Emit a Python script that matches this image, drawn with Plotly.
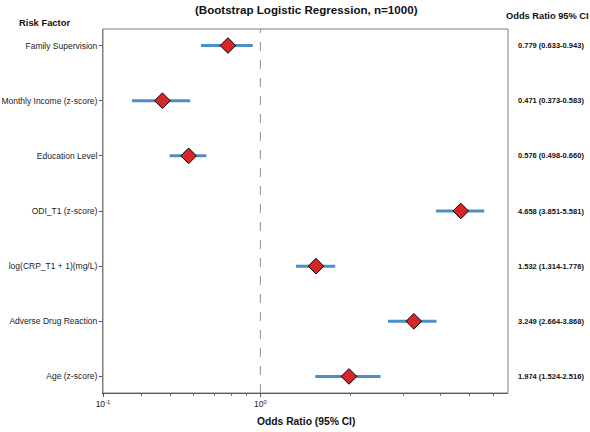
import math
import plotly.graph_objects as go

factors = ["Family Supervision", "Monthly Income (z-score)", "Education Level",
           "ODI_T1 (z-score)", "log(CRP_T1 + 1)(mg/L)", "Adverse Drug Reaction", "Age (z-score)"]
odds = [0.779, 0.471, 0.576, 4.658, 1.532, 3.249, 1.974]
ci_low = [0.633, 0.373, 0.498, 3.851, 1.314, 2.664, 1.524]
ci_high = [0.943, 0.583, 0.660, 5.581, 1.776, 3.868, 2.516]

x_min = min(ci_low) * 0.8
x_max = max(ci_high) * 1.2
major_vals = [x_min, 1]
major_text = ["10<sup>-1</sup>", "10<sup>0</sup>"]
minor_vals = [0.4, 0.5, 0.6, 0.7, 0.8, 0.9, 2, 3, 4, 5, 6]

FONT = "Liberation Sans, Arial, sans-serif"
ypos = list(range(len(factors)))

fig = go.Figure()
fig.add_trace(go.Scatter(
    x=odds, y=ypos, mode="markers",
    marker=dict(symbol="diamond", size=12, color="#d62728",
                line=dict(color="black", width=1)),
    error_x=dict(type="data", symmetric=False,
                 array=[h - o for h, o in zip(ci_high, odds)],
                 arrayminus=[o - l for o, l in zip(odds, ci_low)],
                 color="#4a8fc6", thickness=3, width=0),
    showlegend=False, hoverinfo="skip"))

fig.add_shape(type="line", xref="x", yref="paper", x0=1, x1=1, y0=0, y1=1,
              line=dict(color="#a0a0a0", width=1.2, dash="dash"), layer="below")
fig.add_shape(type="rect", xref="paper", yref="paper", x0=0, x1=1, y0=0, y1=1,
              line=dict(color="#7f7f7f", width=1))

ann = []
for i, (o, l, h) in enumerate(zip(odds, ci_low, ci_high)):
    ann.append(dict(xref="paper", yref="y", x=1.0198, y=i, xanchor="left", yanchor="middle",
                    text=f"<b>{o:.3f} ({l:.3f}-{h:.3f})</b>", showarrow=False,
                    font=dict(size=7.5, color="#111", family=FONT)))
ann.append(dict(xref="paper", yref="paper", x=0.99, y=1.036, xanchor="left", yanchor="middle",
                text="<b>Odds Ratio 95% CI</b>", showarrow=False,
                font=dict(size=9.3, color="#111", family=FONT)))
ann.append(dict(xref="paper", yref="paper", x=-0.212, y=1.019, xanchor="left", yanchor="middle",
                text="<b>Risk Factor</b>", showarrow=False,
                font=dict(size=9.4, color="#111", family=FONT)))
ann.append(dict(xref="paper", yref="paper", x=0.5, y=-0.077, xanchor="center", yanchor="middle",
                text="<b>Odds Ratio (95% CI)</b>", showarrow=False,
                font=dict(size=10.3, color="#111", family=FONT)))

fig.update_layout(
    width=590, height=432,
    margin=dict(l=103, r=82, t=29, b=39, autoexpand=False),
    paper_bgcolor="white", plot_bgcolor="white",
    title=dict(text="<b>(Bootstrap Logistic Regression, n=1000)</b>", x=0.519, xanchor="center",
               y=0.977, yanchor="middle", font=dict(size=11.6, color="#111", family=FONT)),
    annotations=ann,
    xaxis=dict(type="log", range=[math.log10(x_min), math.log10(x_max)], automargin=False,
               tickmode="array", tickvals=major_vals, ticktext=major_text,
               ticks="outside", ticklen=3, tickcolor="#555", showgrid=False, zeroline=False,
               showline=True, linecolor="#333", linewidth=1,
               tickfont=dict(size=8.5, color="#222", family=FONT),
               minor=dict(tickmode="array", tickvals=minor_vals, ticks="outside",
                          ticklen=2, tickcolor="#777", showgrid=False)),
    yaxis=dict(tickmode="array", tickvals=ypos, ticktext=factors, range=[6.3, -0.3],
               automargin=False,
               ticks="outside", ticklen=3, tickcolor="#555", showgrid=False, zeroline=False,
               showline=True, linecolor="#7f7f7f", linewidth=1,
               tickfont=dict(size=8.5, color="#222", family=FONT)),
)

fig.write_html("out.html")
